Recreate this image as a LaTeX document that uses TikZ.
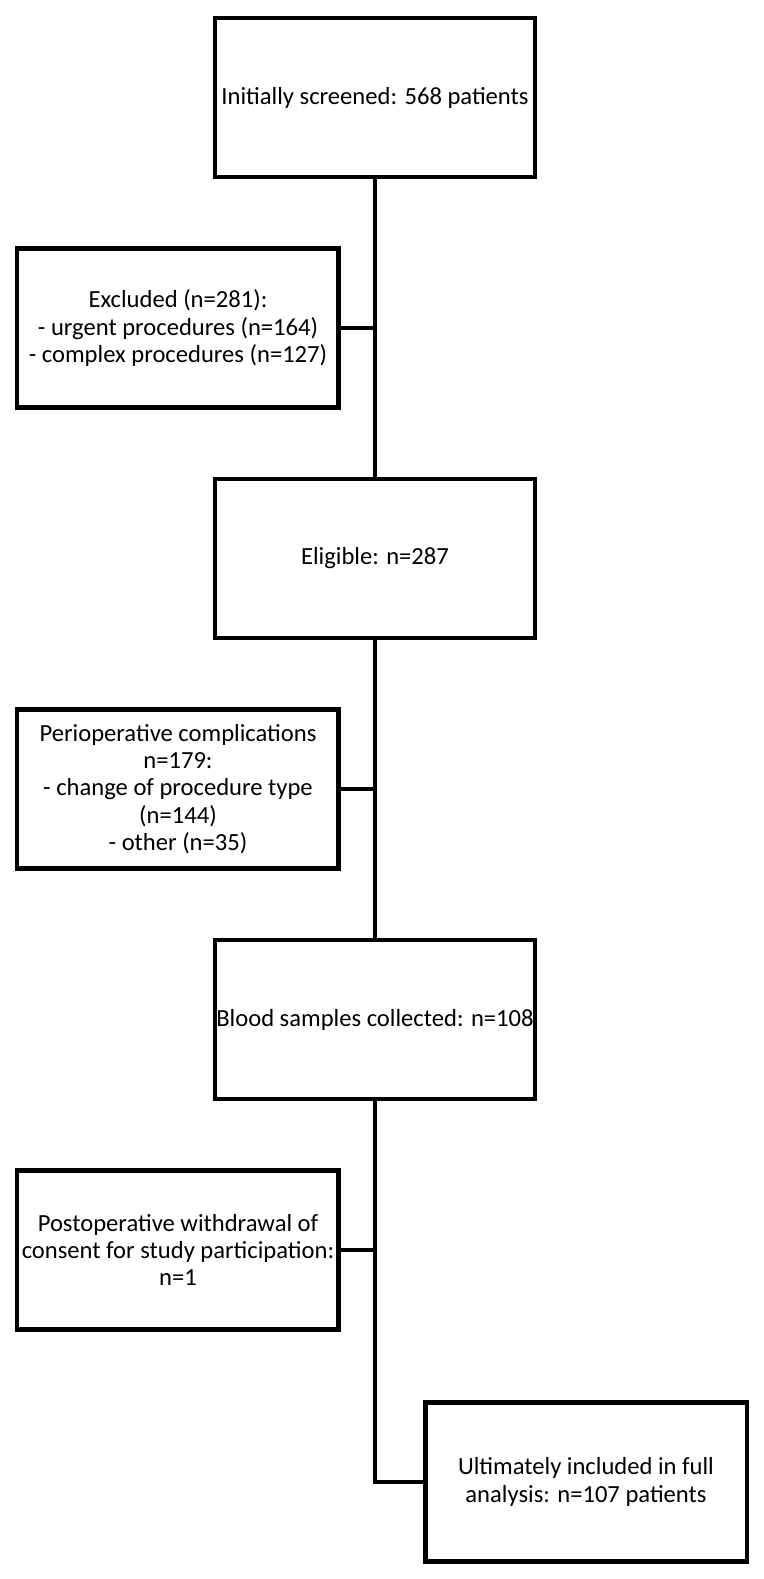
\documentclass[tikz,border=0pt]{standalone}
\usepackage{fontspec}
\setmainfont{Carlito}
\usetikzlibrary{positioning}

\begin{document}
\begin{tikzpicture}[
  node distance=9.22cm,
  mainbox/.style={draw, rectangle, line width=0.09cm, minimum width=6.39cm, minimum height=3.18cm,
    inner sep=0pt, align=center, font=\fontsize{14}{15.6}\selectfont},
  sidebox/.style={mainbox, minimum width=6.43cm},
  link/.style={line width=0.08cm}
]
  \useasboundingbox (-7.5,1.95) rectangle (7.78,-29.63);

  \node[mainbox] (screen) {Initially screened: 568 patients};
  \node[mainbox, below of=screen] (elig) {Eligible: n=287};
  \node[mainbox, below of=elig] (blood) {Blood samples collected: n=108};

  \node[sidebox, below of=screen, node distance=4.61cm, xshift=-3.94cm] (excl)
    {Excluded (n=281):\\- urgent procedures (n=164)\\- complex procedures (n=127)};
  \node[sidebox, below of=elig, node distance=4.61cm, xshift=-3.94cm] (periop)
    {Perioperative complications\\n=179:\\- change of procedure type\\(n=144)\\- other (n=35)};
  \node[sidebox, below of=blood, node distance=4.61cm, xshift=-3.94cm] (postop)
    {Postoperative withdrawal of\\consent for study participation:\\n=1};
  \node[sidebox, below of=postop, node distance=4.64cm, xshift=8.16cm] (final)
    {Ultimately included in full\\analysis: n=107 patients};

  \draw[link] (screen) -- (elig);
  \draw[link] (elig) -- (blood);
  \draw[link] (blood) |- (final);
  \draw[link] (excl.east) -- (excl.east -| screen.center);
  \draw[link] (periop.east) -- (periop.east -| elig.center);
  \draw[link] (postop.east) -- (postop.east -| blood.center);
\end{tikzpicture}
\end{document}
